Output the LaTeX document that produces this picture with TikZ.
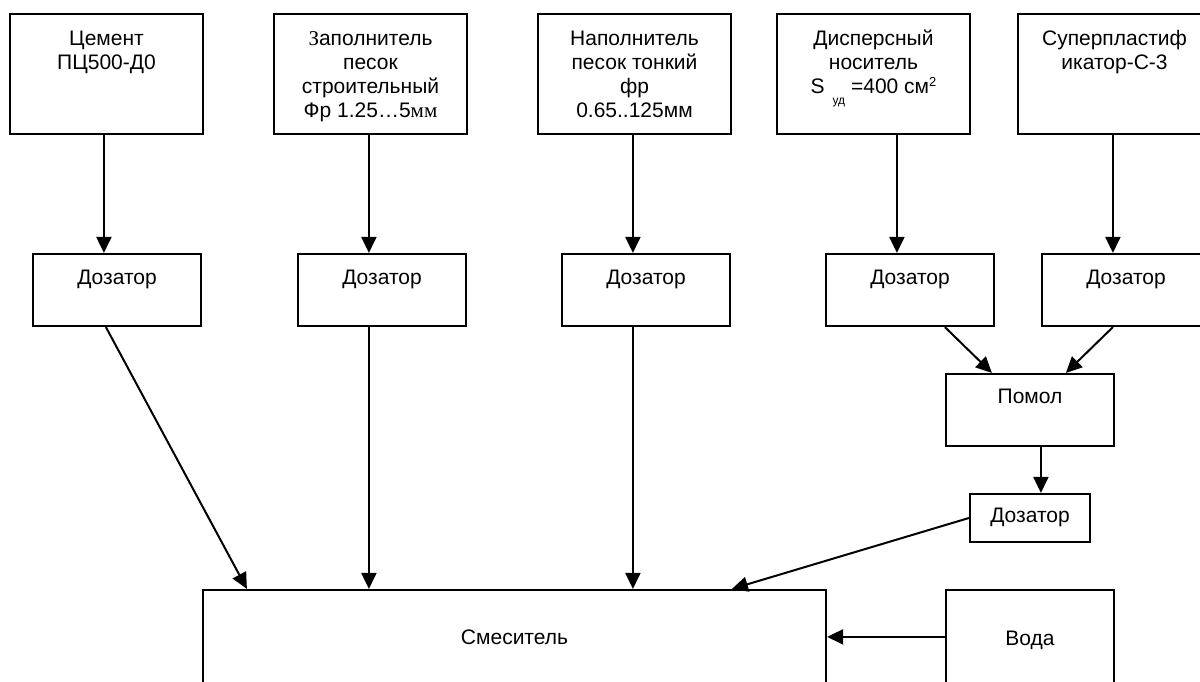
\documentclass[tikz,border=0pt]{standalone}
\usepackage{fontspec}
\setmainfont{Liberation Sans}
\newfontfamily\serifz{Liberation Serif}
\usetikzlibrary{arrows.meta,calc}
\newcommand{\smallf}{\fontsize{12}{12}\selectfont}
\newcommand{\supf}{\fontsize{13}{13}\selectfont}
\newcommand{\capst}{\rule{0pt}{15pt}}
\begin{document}
\begin{tikzpicture}[x=1pt,y=-1pt,
  box/.style={draw,line width=2.2pt,rectangle,inner sep=0pt},
  topbox/.style={box,minimum width=193pt,minimum height=120pt},
  dozbox/.style={box,minimum width=168pt,minimum height=72pt},
  lbl/.style={anchor=north,inner sep=0pt,align=center,
    font=\fontsize{21}{24}\selectfont},
  arr/.style={line width=2pt,-{Triangle[length=16pt,width=15pt]}}
]
\useasboundingbox (0,0) rectangle (1200,681);
\clip (0,0) rectangle (1200,681);
\fill[white] (0,0) rectangle (1200,681);
% top boxes
\node[topbox] (c1) at (106.5,74) {};
\node[topbox] (c2) at (370.5,74) {};
\node[topbox] (c3) at (634.5,74) {};
\node[topbox] (c4) at (873.5,74) {};
\node[topbox] (c5) at (1114.5,74) {};
\node[lbl] (t1) at ($(c1.north)+(0pt,-17pt)$) {\capst Цемент\\ПЦ500-Д0};
\node[lbl] (t2) at ($(c2.north)+(0pt,-17pt)$) {\capst{\serifz З}аполнитель\\песок\\строительный\\Фр 1.25…5{\serifz мм}};
\node[lbl] (t3) at ($(c3.north)+(0pt,-17pt)$) {\capst Наполнитель\\песок тонкий\\фр\\0.65..125мм};
\node[lbl] (t4) at ($(c4.north)+(0pt,-17pt)$) {\capst Дисперсный\\носитель\\S\hspace{8pt}\raisebox{-11pt}{\smallf уд} =400 см\raisebox{7pt}{\supf 2}};
\node[lbl] (t5) at ($(c5.north)+(0pt,-17pt)$) {\capst Суперпластиф\\икатор-С-3};
% dosers
\node[dozbox] (d1) at (117,290) {};
\node[dozbox] (d2) at (382,290) {};
\node[dozbox] (d3) at (646,290) {};
\node[dozbox] (d4) at (910,290) {};
\node[dozbox] (d5) at (1126,290) {};
\foreach \i in {1,...,5}{
  \node[lbl] (dt\i) at ($(d\i.north)+(0pt,-16pt)$) {\capst Дозатор};
}
% grinding
\node[dozbox] (pm) at (1030,410) {};
\node[lbl] (pmt) at ($(pm.north)+(0pt,-15pt)$) {\capst Помол};
\node[box,minimum width=120pt,minimum height=48pt] (sd) at (1030,518) {};
\node[lbl] (sdt) at ($(sd.north)+(0pt,-14pt)$) {\capst Дозатор};
% mixer and water
\node[box,minimum width=623pt,minimum height=100pt] (mx) at (514.5,640) {};
\node[lbl] (mxt) at ($(mx.north)+(0pt,-40pt)$) {\capst Смеситель};
\node[box,minimum width=168pt,minimum height=100pt] (vd) at (1030,640) {};
\node[lbl] (vdt) at ($(vd.north)+(0pt,-41pt)$) {\capst Вода};
% coordinates
\foreach \i in {1,...,5}{
  \coordinate (din\i) at ($(d\i.north west)+(72pt,0pt)$);
}
\coordinate (d1o) at ($(d1.south west)+(74pt,0pt)$);
\coordinate (d2o) at ($(d2.south west)+(72pt,0pt)$);
\coordinate (d3o) at ($(d3.south west)+(72pt,0pt)$);
\coordinate (d4o) at ($(d4.south west)+(120pt,0pt)$);
\coordinate (d5o) at ($(d5.south west)+(72pt,0pt)$);
\coordinate (pmi1) at ($(pm.north west)+(47pt,0pt)$);
\coordinate (pmi2) at ($(pm.north west)+(121pt,0pt)$);
\coordinate (pmo) at ($(pm.south west)+(96pt,0pt)$);
\coordinate (mxi1) at ($(mx.north west)+(45pt,0pt)$);
\coordinate (mxi4) at ($(mx.north west)+(530pt,0pt)$);
\coordinate (vdo) at ($(vd.north west)+(0pt,-48pt)$);
% arrows
\foreach \i in {1,...,5}{
  \draw[arr] (c\i.south -| din\i) -- (din\i);
}
\draw[arr] (d1o) -- (mxi1);
\draw[arr] (d2o) -- (d2o |- mx.north);
\draw[arr] (d3o) -- (d3o |- mx.north);
\draw[arr] (d4o) -- (pmi1);
\draw[arr] (d5o) -- (pmi2);
\draw[arr] (pmo) -- (pmo |- sd.north);
\draw[arr] (sd.west) -- (mxi4);
\draw[arr] (vdo) -- (vdo -| mx.east);
\end{tikzpicture}
\end{document}
